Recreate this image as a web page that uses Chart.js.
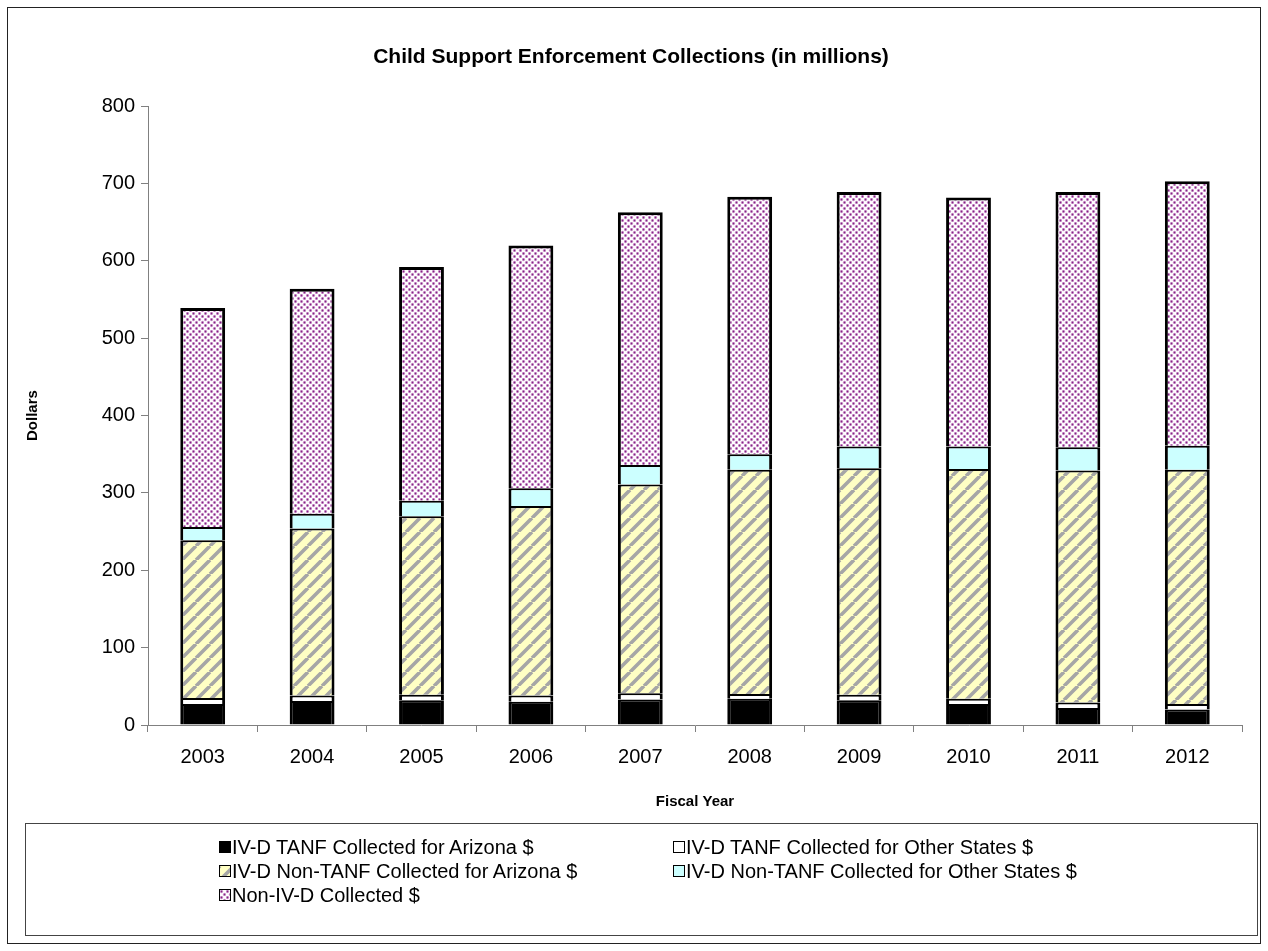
<!DOCTYPE html>
<html>
<head>
<meta charset="utf-8">
<script src="https://cdn.jsdelivr.net/npm/chart.js@4"></script>
<style>
  html, body { margin: 0; padding: 0; background: #fff; }
  #wrap { position: relative; width: 1268px; height: 951px; }
  #frame { position: absolute; left: 7px; top: 7px; width: 1254px; height: 937px; border: 1px solid #222; box-sizing: border-box; }
  #chart { position: absolute; left: 0; top: 0; }
  #legend {
    position: absolute; left: 25px; top: 823px; width: 1233px; height: 113px;
    border: 1px solid #444; box-sizing: border-box;
    font-family: Arial, "Liberation Sans", sans-serif; font-size: 20px; color: #000;
  }
  .item { position: absolute; display: flex; align-items: center; white-space: nowrap; line-height: 24px; }
  .item canvas { border: 1px solid #000; margin-right: 1px; box-sizing: content-box; }
</style>
</head>
<body>
<div id="wrap">
  <div id="frame"></div>
  <canvas id="chart" width="1268" height="951"></canvas>
  <div id="legend"></div>
</div>
<script>
// Fiscal years on the x axis
const years = ["2003", "2004", "2005", "2006", "2007", "2008", "2009", "2010", "2011", "2012"];

// Collections in millions, bottom segment first
const tanfArizona = [27, 31, 32, 30, 33, 34, 32, 27, 22, 20];
const tanfOtherStates = [8, 7, 7, 8, 8, 6, 7, 7, 7, 7];
const nonTanfArizona = [204, 216, 231, 245, 270, 290, 293, 297, 300, 303];
const nonTanfOtherStates = [17, 19, 20, 23, 25, 20, 28, 29, 30, 31];
const nonIVD = [283, 291, 302, 314, 327, 333, 329, 322, 330, 342];

const seriesLabels = [
  "IV-D TANF Collected for Arizona $",
  "IV-D TANF Collected for Other States $",
  "IV-D Non-TANF Collected for Arizona $",
  "IV-D Non-TANF Collected for Other States $",
  "Non-IV-D Collected $",
];

const yMax = 800;
const yStep = 100;

const FONT = "Arial, 'Liberation Sans', sans-serif";

// yellow with grey diagonal stripes
function hatchPattern() {
  const s = 14;
  const c = document.createElement("canvas");
  c.width = s; c.height = s;
  const g = c.getContext("2d");
  g.fillStyle = "#FFFFC4";
  g.fillRect(0, 0, s, s);
  g.strokeStyle = "#A6A6A6";
  g.lineWidth = 3.6;
  g.beginPath();
  for (const o of [-s, 0, s]) { g.moveTo(o, s); g.lineTo(o + s, 0); }
  g.stroke();
  return g.createPattern(c, "repeat");
}

// white with small purple dots
function dotPattern() {
  const c = document.createElement("canvas");
  c.width = 6; c.height = 6;
  const g = c.getContext("2d");
  g.fillStyle = "#FFFFFF";
  g.fillRect(0, 0, 6, 6);
  for (const [x, y] of [[1.5, 1.5], [4.5, 4.5]]) {
    g.fillStyle = "#D8AED8";
    g.beginPath(); g.arc(x, y, 1.7, 0, Math.PI * 2); g.fill();
    g.fillStyle = "#862486";
    g.beginPath(); g.arc(x, y, 0.9, 0, Math.PI * 2); g.fill();
  }
  return g.createPattern(c, "repeat");
}

const fills = ["#000000", "#FFFFFF", hatchPattern(), "#CCFFFF", dotPattern()];
const values = [tanfArizona, tanfOtherStates, nonTanfArizona, nonTanfOtherStates, nonIVD];

const datasets = values.map((data, i) => ({
  label: seriesLabels[i],
  data,
  backgroundColor: fills[i],
  borderColor: "#000",
  borderWidth: { top: i === 4 ? 3 : 2, left: 3, right: 3, bottom: 0 },
  barPercentage: 0.41,
  categoryPercentage: 1,
}));

new Chart(document.getElementById("chart"), {
  type: "bar",
  data: { labels: years, datasets },
  options: {
    responsive: false,
    animation: false,
    layout: { padding: { left: 20, right: 26, top: 0, bottom: 136 } },
    plugins: {
      legend: { display: false },
      tooltip: { enabled: false },
      title: {
        display: true,
        text: "Child Support Enforcement Collections (in millions)",
        color: "#000",
        font: { family: FONT, size: 21, weight: "bold" },
        padding: { top: 45, bottom: 36 },
      },
    },
    scales: {
      x: {
        stacked: true,
        afterFit: (s) => { s.height = 90; },
        grid: { offset: true, drawOnChartArea: false, tickLength: 7, color: "#808080" },
        border: { color: "#808080" },
        ticks: { color: "#000", font: { family: FONT, size: 20 }, padding: 13 },
        title: {
          display: true,
          text: "Fiscal Year",
          color: "#000",
          font: { family: FONT, size: 15, weight: "bold" },
        },
      },
      y: {
        stacked: true,
        min: 0,
        max: yMax,
        afterFit: (s) => { s.width = 128; },
        grid: { drawOnChartArea: false, tickLength: 7, color: "#808080" },
        border: { color: "#808080" },
        ticks: { stepSize: yStep, color: "#000", font: { family: FONT, size: 20 }, padding: 6 },
        title: {
          display: true,
          text: "Dollars",
          color: "#000",
          font: { family: FONT, size: 15, weight: "bold" },
        },
      },
    },
  },
});

// two-column legend as in the original
const legend = document.getElementById("legend");
const slots = [[193, 11], [647, 11], [193, 35], [647, 35], [193, 59]];
seriesLabels.forEach((label, i) => {
  const item = document.createElement("div");
  item.className = "item";
  item.style.left = slots[i][0] + "px";
  item.style.top = slots[i][1] + "px";
  const box = document.createElement("canvas");
  box.width = 10; box.height = 10;
  const g = box.getContext("2d");
  g.fillStyle = fills[i];
  g.fillRect(0, 0, 10, 10);
  item.appendChild(box);
  item.appendChild(document.createTextNode(label));
  legend.appendChild(item);
});
</script>
</body>
</html>
